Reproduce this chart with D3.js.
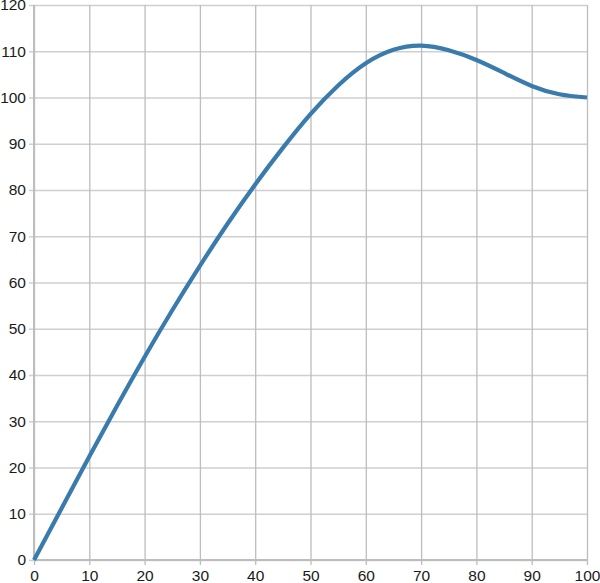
<!DOCTYPE html>
<html>
<head>
<meta charset="utf-8">
<script src="https://cdn.jsdelivr.net/npm/d3@7"></script>
<style>
  body { margin: 0; background: #fff; }
  svg { display: block; }
  svg text { font-family: "Liberation Sans", Arial, sans-serif; }
</style>
</head>
<body>
<svg id="chart" width="600" height="583"></svg>
<script>
const xValues = [0, 5, 10, 15, 20, 25, 30, 35, 40, 45, 50, 55, 60, 65, 70, 75, 80, 85, 90, 95, 100];
const yValues = [0, 11.2, 22.4, 33.3, 43.9, 54.0, 63.6, 72.7, 81.2, 89.1, 96.4, 102.6, 107.4, 110.3, 111.2, 110.2, 108.1, 105.3, 102.5, 100.7, 100];
const xTicks = [0, 10, 20, 30, 40, 50, 60, 70, 80, 90, 100];
const yTicks = [0, 10, 20, 30, 40, 50, 60, 70, 80, 90, 100, 110, 120];

const margin = { left: 34, right: 13, top: 5, bottom: 23 };
const W = 600, H = 583;
const svg = d3.select("#chart");

const x = d3.scaleLinear().domain([0, 100]).range([margin.left, W - margin.right]);
const y = d3.scaleLinear().domain([0, 120]).range([H - margin.bottom, margin.top]);

// horizontal gridlines (y axis)
const yAxis = svg.append("g")
  .attr("transform", `translate(${margin.left},0)`)
  .call(d3.axisLeft(y).tickValues(yTicks).tickSize(0).tickPadding(8).tickFormat(d3.format("d")));
yAxis.attr("font-family", "Liberation Sans, Arial, sans-serif");
yAxis.select(".domain").remove();
yAxis.selectAll(".tick line").remove();
yAxis.selectAll(".tick").append("line")
  .attr("x1", -5).attr("x2", W - margin.left - margin.right)
  .attr("stroke", "#cfcfcf").attr("stroke-width", 1.3);
yAxis.selectAll(".tick text")
  .attr("font-size", 15.5).style("font-size", "15.5px").attr("fill", "#1a1a1a");

// vertical gridlines (x axis)
const xAxis = svg.append("g")
  .attr("transform", `translate(0,${H - margin.bottom})`)
  .call(d3.axisBottom(x).tickValues(xTicks).tickSize(0).tickPadding(10).tickFormat(d3.format("d")));
xAxis.attr("font-family", "Liberation Sans, Arial, sans-serif");
xAxis.select(".domain").remove();
xAxis.selectAll(".tick line").remove();
xAxis.selectAll(".tick").append("line")
  .attr("y1", 5).attr("y2", -(H - margin.top - margin.bottom))
  .attr("stroke", "#bdbdbd").attr("stroke-width", 1.3);
xAxis.selectAll(".tick text")
  .attr("font-size", 15.5).style("font-size", "15.5px").attr("fill", "#1a1a1a");

// axis lines
svg.append("line")
  .attr("x1", x(0)).attr("x2", x(0)).attr("y1", y(0)).attr("y2", y(120))
  .attr("stroke", "#bdbdbd").attr("stroke-width", 2);
svg.append("line")
  .attr("x1", x(0)).attr("x2", x(100)).attr("y1", y(0)).attr("y2", y(0))
  .attr("stroke", "#bdbdbd").attr("stroke-width", 2);

const data = xValues.map((v, i) => ({ x: v, y: yValues[i] }));
const line = d3.line().x(d => x(d.x)).y(d => y(d.y)).curve(d3.curveNatural);
svg.append("path")
  .datum(data)
  .attr("d", line)
  .attr("fill", "none")
  .attr("stroke", "#3a7bae")
  .attr("stroke-width", 4.2)
  .attr("stroke-linecap", "butt");
</script>
</body>
</html>
